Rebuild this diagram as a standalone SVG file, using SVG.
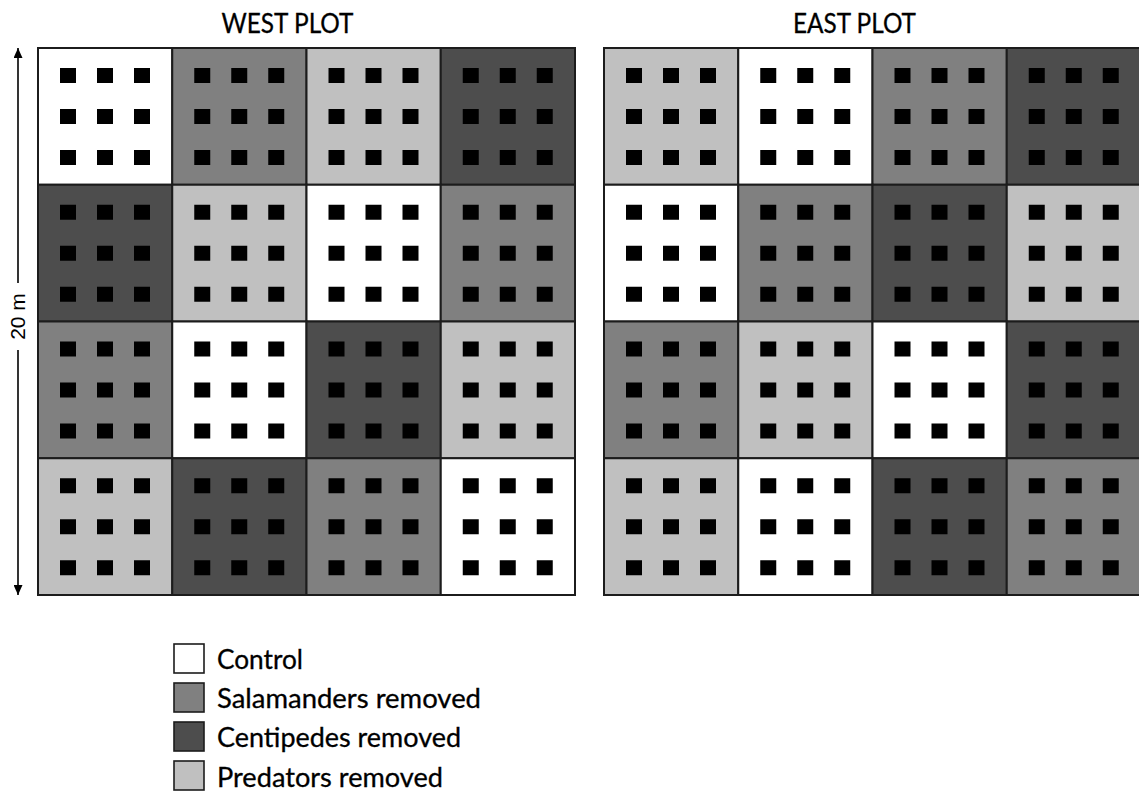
<svg xmlns="http://www.w3.org/2000/svg" xmlns:xlink="http://www.w3.org/1999/xlink" width="1139" height="798" viewBox="0 0 1139 798">
  <style>
    .cell { stroke: #1c1c1c; stroke-width: 2; }
    .ctl { fill: #ffffff; }
    .sal { fill: #808080; }
    .cen { fill: #4d4d4d; }
    .pre { fill: #c0c0c0; }
    .dot { fill: #000000; }
    .lbl { font-family: Lato, "Liberation Sans", sans-serif; font-size: 26px; fill: #000000; stroke: #000000; stroke-width: 0.3; }
    .key { stroke: #1c1c1c; stroke-width: 1.6; }
    .dim { stroke: #000000; stroke-width: 1.6; fill: none; }
  </style>
  <defs>
    <!-- 3x3 set of sample squares inside one treatment cell -->
    <g id="dots" class="dot">
      <rect x="22" y="20" width="16" height="15"/>
      <rect x="59" y="20" width="16" height="15"/>
      <rect x="96" y="20" width="16" height="15"/>
      <rect x="22" y="61" width="16" height="15"/>
      <rect x="59" y="61" width="16" height="15"/>
      <rect x="96" y="61" width="16" height="15"/>
      <rect x="22" y="102" width="16" height="15"/>
      <rect x="59" y="102" width="16" height="15"/>
      <rect x="96" y="102" width="16" height="15"/>
    </g>
    <marker id="head" viewBox="0 0 10 9" refX="10" refY="4.5" markerWidth="10" markerHeight="9" markerUnits="userSpaceOnUse" orient="auto">
      <path d="M0,0 L10,4.5 L0,9 Z" fill="#000000"/>
    </marker>
  </defs>

  <rect width="1139" height="798" fill="#ffffff"/>

  <!-- titles -->
  <text class="lbl" x="221.5" y="33" textLength="132" lengthAdjust="spacingAndGlyphs">WEST PLOT</text>
  <text class="lbl" x="793" y="33" textLength="123" lengthAdjust="spacingAndGlyphs">EAST PLOT</text>

  <!-- West plot: 4 x 4 cells, 134.25 wide, 136.75 tall -->
  <g id="west">
    <g id="w11"><rect class="cell ctl" x="38" y="48" width="134.25" height="136.75"/><use href="#dots" x="38" y="48"/></g>
    <g id="w12"><rect class="cell sal" x="172.25" y="48" width="134.25" height="136.75"/><use href="#dots" x="172.25" y="48"/></g>
    <g id="w13"><rect class="cell pre" x="306.5" y="48" width="134.25" height="136.75"/><use href="#dots" x="306.5" y="48"/></g>
    <g id="w14"><rect class="cell cen" x="440.75" y="48" width="134.25" height="136.75"/><use href="#dots" x="440.75" y="48"/></g>

    <g id="w21"><rect class="cell cen" x="38" y="184.75" width="134.25" height="136.75"/><use href="#dots" x="38" y="184.75"/></g>
    <g id="w22"><rect class="cell pre" x="172.25" y="184.75" width="134.25" height="136.75"/><use href="#dots" x="172.25" y="184.75"/></g>
    <g id="w23"><rect class="cell ctl" x="306.5" y="184.75" width="134.25" height="136.75"/><use href="#dots" x="306.5" y="184.75"/></g>
    <g id="w24"><rect class="cell sal" x="440.75" y="184.75" width="134.25" height="136.75"/><use href="#dots" x="440.75" y="184.75"/></g>

    <g id="w31"><rect class="cell sal" x="38" y="321.5" width="134.25" height="136.75"/><use href="#dots" x="38" y="321.5"/></g>
    <g id="w32"><rect class="cell ctl" x="172.25" y="321.5" width="134.25" height="136.75"/><use href="#dots" x="172.25" y="321.5"/></g>
    <g id="w33"><rect class="cell cen" x="306.5" y="321.5" width="134.25" height="136.75"/><use href="#dots" x="306.5" y="321.5"/></g>
    <g id="w34"><rect class="cell pre" x="440.75" y="321.5" width="134.25" height="136.75"/><use href="#dots" x="440.75" y="321.5"/></g>

    <g id="w41"><rect class="cell pre" x="38" y="458.25" width="134.25" height="136.75"/><use href="#dots" x="38" y="458.25"/></g>
    <g id="w42"><rect class="cell cen" x="172.25" y="458.25" width="134.25" height="136.75"/><use href="#dots" x="172.25" y="458.25"/></g>
    <g id="w43"><rect class="cell sal" x="306.5" y="458.25" width="134.25" height="136.75"/><use href="#dots" x="306.5" y="458.25"/></g>
    <g id="w44"><rect class="cell ctl" x="440.75" y="458.25" width="134.25" height="136.75"/><use href="#dots" x="440.75" y="458.25"/></g>
  </g>

  <!-- East plot -->
  <g id="east">
    <g id="e11"><rect class="cell pre" x="604" y="48" width="134.25" height="136.75"/><use href="#dots" x="604" y="48"/></g>
    <g id="e12"><rect class="cell ctl" x="738.25" y="48" width="134.25" height="136.75"/><use href="#dots" x="738.25" y="48"/></g>
    <g id="e13"><rect class="cell sal" x="872.5" y="48" width="134.25" height="136.75"/><use href="#dots" x="872.5" y="48"/></g>
    <g id="e14"><rect class="cell cen" x="1006.75" y="48" width="134.25" height="136.75"/><use href="#dots" x="1006.75" y="48"/></g>

    <g id="e21"><rect class="cell ctl" x="604" y="184.75" width="134.25" height="136.75"/><use href="#dots" x="604" y="184.75"/></g>
    <g id="e22"><rect class="cell sal" x="738.25" y="184.75" width="134.25" height="136.75"/><use href="#dots" x="738.25" y="184.75"/></g>
    <g id="e23"><rect class="cell cen" x="872.5" y="184.75" width="134.25" height="136.75"/><use href="#dots" x="872.5" y="184.75"/></g>
    <g id="e24"><rect class="cell pre" x="1006.75" y="184.75" width="134.25" height="136.75"/><use href="#dots" x="1006.75" y="184.75"/></g>

    <g id="e31"><rect class="cell sal" x="604" y="321.5" width="134.25" height="136.75"/><use href="#dots" x="604" y="321.5"/></g>
    <g id="e32"><rect class="cell pre" x="738.25" y="321.5" width="134.25" height="136.75"/><use href="#dots" x="738.25" y="321.5"/></g>
    <g id="e33"><rect class="cell ctl" x="872.5" y="321.5" width="134.25" height="136.75"/><use href="#dots" x="872.5" y="321.5"/></g>
    <g id="e34"><rect class="cell cen" x="1006.75" y="321.5" width="134.25" height="136.75"/><use href="#dots" x="1006.75" y="321.5"/></g>

    <g id="e41"><rect class="cell pre" x="604" y="458.25" width="134.25" height="136.75"/><use href="#dots" x="604" y="458.25"/></g>
    <g id="e42"><rect class="cell ctl" x="738.25" y="458.25" width="134.25" height="136.75"/><use href="#dots" x="738.25" y="458.25"/></g>
    <g id="e43"><rect class="cell cen" x="872.5" y="458.25" width="134.25" height="136.75"/><use href="#dots" x="872.5" y="458.25"/></g>
    <g id="e44"><rect class="cell sal" x="1006.75" y="458.25" width="134.25" height="136.75"/><use href="#dots" x="1006.75" y="458.25"/></g>
  </g>

  <!-- 20 m dimension arrow -->
  <g id="connectors">
    <line class="dim" x1="18" y1="283" x2="18" y2="48" marker-end="url(#head)"/>
    <line class="dim" x1="18" y1="350" x2="18" y2="595" marker-end="url(#head)"/>
  </g>
  <text x="25" y="316.5" transform="rotate(-90 25 316.5)" text-anchor="middle" font-family="'Liberation Sans', Arial, sans-serif" font-size="21" fill="#000000">20 m</text>

  <!-- legend -->
  <g id="legend">
    <g id="key-control"><rect class="key ctl" x="174" y="644" width="30" height="29"/><text class="lbl" x="217" y="669" textLength="86" lengthAdjust="spacingAndGlyphs">Control</text></g>
    <g id="key-salamanders"><rect class="key sal" x="174" y="683" width="30" height="29"/><text class="lbl" x="217" y="708" textLength="264" lengthAdjust="spacingAndGlyphs">Salamanders removed</text></g>
    <g id="key-centipedes"><rect class="key cen" x="174" y="722" width="30" height="29"/><text class="lbl" x="217" y="747" textLength="244" lengthAdjust="spacingAndGlyphs">Centipedes removed</text></g>
    <g id="key-predators"><rect class="key pre" x="174" y="761" width="30" height="29"/><text class="lbl" x="217" y="786.5" textLength="226" lengthAdjust="spacingAndGlyphs">Predators removed</text></g>
  </g>
</svg>
